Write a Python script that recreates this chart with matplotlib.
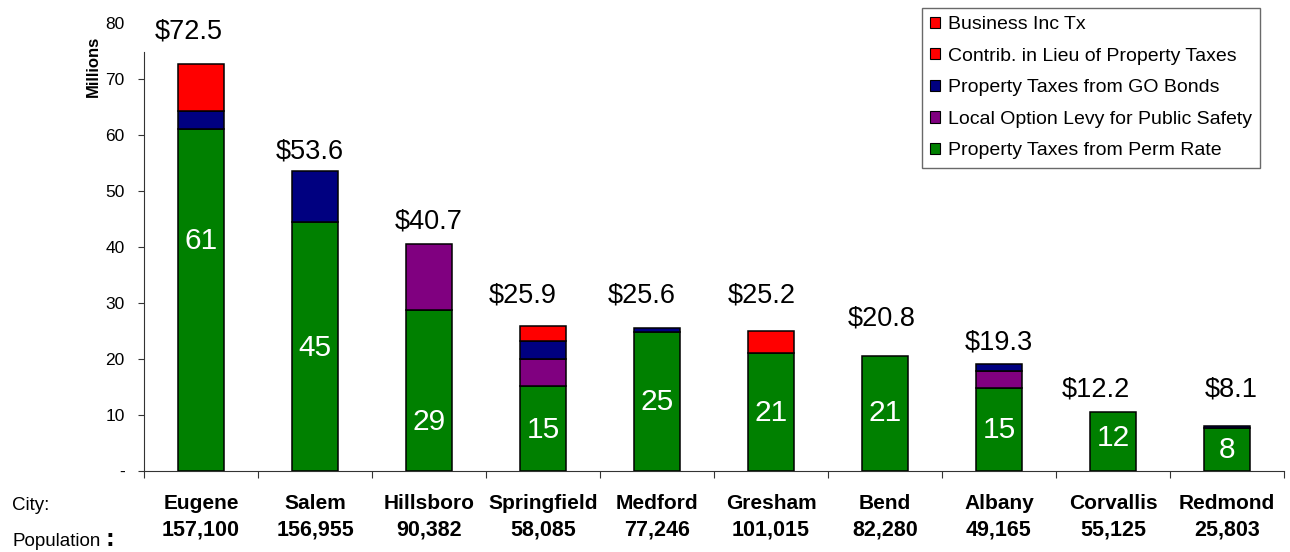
import matplotlib
matplotlib.use("Agg")
import matplotlib.pyplot as plt
from matplotlib.patches import Patch
import numpy as np

plt.rcParams['font.family'] = ['Liberation Sans', 'DejaVu Sans']

cities = ["Eugene", "Salem", "Hillsboro", "Springfield", "Medford",
          "Gresham", "Bend", "Albany", "Corvallis", "Redmond"]
population = ["157,100", "156,955", "90,382", "58,085", "77,246",
              "101,015", "82,280", "49,165", "55,125", "25,803"]

perm_rate = [61.1, 44.5, 28.8, 15.1, 24.9, 21.1, 20.6, 14.8, 10.5, 7.7]
local_option = [0, 0, 11.7, 4.9, 0, 0, 0, 3.0, 0, 0]
go_bonds = [3.2, 9.0, 0, 3.3, 0.7, 0, 0, 1.3, 0, 0.3]
contrib_lieu = [8.4, 0, 0, 0, 0, 3.9, 0, 0, 0, 0]
business_inc = [0, 0, 0, 2.6, 0, 0, 0, 0, 0, 0]

total_labels = ["$72.5", "$53.6", "$40.7", "$25.9", "$25.6",
                "$25.2", "$20.8", "$19.3", "$12.2", "$8.1"]
total_label_y = [78.4, 57.0, 44.5, 31.4, 31.4, 31.4, 27.3, 23.0, 14.5, 14.5]
total_label_dx = [-0.11, -0.05, 0.0, -0.18, -0.13, -0.08, -0.03, 0.0, -0.15, 0.035]
inner_labels = ["61", "45", "29", "15", "25", "21", "21", "15", "12", "8"]
inner_label_y = [41.1, 22.0, 8.8, 7.3, 12.3, 10.4, 10.3, 7.3, 5.9, 3.8]

series = [
    ("Property Taxes from Perm Rate", perm_rate, "#008000"),
    ("Local Option Levy for Public Safety", local_option, "#800080"),
    ("Property Taxes from GO Bonds", go_bonds, "#000080"),
    ("Contrib. in Lieu of Property Taxes", contrib_lieu, "#FF0000"),
    ("Business Inc Tx", business_inc, "#FF0000"),
]

fig = plt.figure(figsize=(12.9, 5.52), dpi=100)
ax = fig.add_axes([144/1290, 1 - 471/552, 1140/1290, 448/552])

x = np.arange(len(cities))
bottom = np.zeros(len(cities))
for name, vals, col in series:
    v = np.array(vals, dtype=float)
    mask = v > 0
    ax.bar(x[mask], v[mask], bottom=bottom[mask], width=0.41, color=col,
           edgecolor="black", linewidth=1.1, zorder=3)
    bottom += v

for i in range(len(cities)):
    ax.text(x[i] + total_label_dx[i], total_label_y[i], total_labels[i],
            ha="center", va="center", fontsize=19.5, color="black")
    ax.text(x[i], inner_label_y[i], inner_labels[i], ha="center", va="center",
            fontsize=21.5, color="white", zorder=4)

ax.set_xlim(-0.5, 9.5)
ax.set_ylim(0, 80)
ax.set_yticks(np.arange(0, 81, 10))
ax.set_yticklabels(["-"] + [str(v) for v in range(10, 81, 10)], fontsize=12.5)
ax.tick_params(axis="y", direction="out", length=4.3, width=0.8, pad=9.5,
               color="#333333")
ax.get_yticklines()[-2].set_visible(False)
ax.get_yticklines()[-1].set_visible(False)
ax.set_xticks(np.arange(-0.5, 10, 1))
ax.set_xticklabels([])
ax.tick_params(axis="x", direction="out", length=4.7, width=0.8, color="#333333")

for s in ["top", "right"]:
    ax.spines[s].set_visible(False)
ax.spines["left"].set_bounds(0, 74.8)
ax.spines["left"].set_color("#333333")
ax.spines["bottom"].set_color("#333333")

# city & population labels below axis
for i in range(len(cities)):
    ax.text(x[i], -5.8, cities[i], ha="center", va="center", fontsize=15,
            fontweight="bold", clip_on=False)
    ax.text(x[i], -10.5, population[i], ha="center", va="center", fontsize=15.5,
            fontweight="bold", clip_on=False)

fig.text(12/1290, 1 - 506/552, "City:", ha="left", va="center", fontsize=13.5)
fig.text(12/1290, 1 - 541/552, "Population", ha="left", va="center", fontsize=13.5)
fig.text(106/1290, 1 - 539/552, ":", ha="left", va="center", fontsize=19,
         fontweight="bold")

fig.text(93/1290, 1 - 66/552, "Millions", rotation=90, ha="center",
         va="center", fontsize=12, fontweight="bold")

handles = [Patch(facecolor=c, edgecolor="black", linewidth=0.8, label=n)
           for n, _, c in reversed(series)]
leg = fig.legend(handles=handles, loc="upper left",
                 bbox_to_anchor=(922/1290, 1 - 8/552), fontsize=14,
                 frameon=True, fancybox=False, edgecolor="#444444",
                 handlelength=0.5, handleheight=0.5, handletextpad=0.4,
                 labelspacing=0.75, borderpad=0.42, borderaxespad=0)
leg.get_frame().set_linewidth(1.0)

fig.savefig("out.png", dpi=100)
